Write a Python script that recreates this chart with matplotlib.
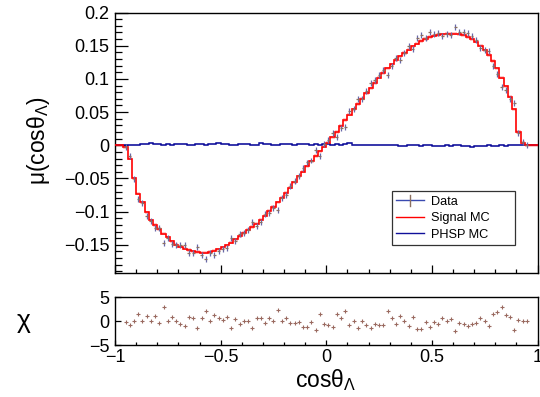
import numpy as np
import matplotlib
matplotlib.use('Agg')
import matplotlib.pyplot as plt
from matplotlib.lines import Line2D
from matplotlib.ticker import MultipleLocator, FixedLocator, FixedFormatter

plt.rcParams['font.family'] = ['Liberation Sans', 'DejaVu Sans']
plt.rcParams['mathtext.fontset'] = 'custom'
plt.rcParams['mathtext.rm'] = 'Liberation Sans'
plt.rcParams['mathtext.it'] = 'Liberation Sans'
plt.rcParams['mathtext.bf'] = 'Liberation Sans:bold'

# ---------------- data ----------------
n_bins = 100
x_range = (-1.0, 1.0)

signal_mc = [
    0.000, 0.000, -0.003, -0.020, -0.050, -0.073, -0.086, -0.101, -0.113, -0.120,
    -0.126, -0.133, -0.139, -0.145, -0.150, -0.153, -0.156, -0.158, -0.160, -0.161,
    -0.162, -0.162, -0.161, -0.159, -0.157, -0.154, -0.151, -0.147, -0.142, -0.137,
    -0.132, -0.127, -0.123, -0.118, -0.112, -0.106, -0.099, -0.093, -0.086, -0.079,
    -0.072, -0.064, -0.056, -0.047, -0.040, -0.032, -0.024, -0.016, -0.009, -0.002,
    0.004, 0.012, 0.020, 0.029, 0.038, 0.046, 0.054, 0.062, 0.070, 0.078,
    0.086, 0.094, 0.102, 0.109, 0.116, 0.122, 0.128, 0.134, 0.139, 0.144,
    0.149, 0.153, 0.157, 0.160, 0.163, 0.165, 0.166, 0.167, 0.168, 0.168,
    0.168, 0.167, 0.166, 0.163, 0.160, 0.156, 0.150, 0.143, 0.136, 0.127,
    0.116, 0.102, 0.089, 0.073, 0.054, 0.020, 0.004, 0.000, 0.000, 0.000,
]

phsp_mc = [
    0.000, 0.000, 0.000, 0.000, 0.000, 0.001, 0.002, 0.002, 0.003, 0.002,
    0.002, 0.001, 0.002, 0.001, 0.002, 0.002, 0.002, 0.001, 0.001, 0.002,
    0.002, 0.001, 0.002, 0.002, 0.003, 0.002, 0.002, 0.001, 0.001, 0.002,
    0.002, 0.002, 0.001, 0.001, 0.003, 0.002, 0.002, 0.001, 0.001, 0.002,
    0.002, 0.002, 0.001, 0.002, 0.002, 0.002, 0.001, 0.002, 0.001, 0.002,
    0.002, 0.001, 0.002, 0.001, 0.002, 0.003, 0.001, 0.001, 0.000, 0.001,
    0.001, 0.000, 0.000, 0.000, 0.001, 0.000, 0.000, -0.001, -0.001, 0.000,
    0.000, 0.000, -0.001, 0.000, 0.000, -0.001, -0.001, -0.001, 0.000, -0.001,
    0.001, 0.000, -0.001, -0.001, -0.002, -0.001, -0.001, -0.001, 0.000, -0.001,
    -0.001, 0.000, -0.001, 0.000, 0.000, 0.000, 0.000, 0.000, 0.000, 0.000,
]

# data exists in bins 2 .. 97
data_first_bin = 2
data_vals = [
    -0.002, -0.016, -0.051, -0.081, -0.087, -0.106, -0.114, -0.125, -0.124, -0.148,
    -0.140, -0.149, -0.150, -0.150, -0.151, -0.162, -0.163, -0.154, -0.165, -0.172,
    -0.162, -0.165, -0.160, -0.156, -0.155, -0.140, -0.144, -0.134, -0.132, -0.127,
    -0.116, -0.121, -0.116, -0.104, -0.102, -0.094, -0.097, -0.079, -0.075, -0.062,
    -0.054, -0.046, -0.034, -0.026, -0.023, -0.007, -0.016, 0.002, 0.008, 0.019,
    0.013, 0.026, 0.028, 0.051, 0.055, 0.070, 0.070, 0.082, 0.094, 0.098,
    0.106, 0.113, 0.106, 0.119, 0.132, 0.129, 0.139, 0.150, 0.145, 0.162,
    0.166, 0.162, 0.170, 0.167, 0.169, 0.164, 0.168, 0.166, 0.178, 0.170,
    0.170, 0.169, 0.164, 0.159, 0.147, 0.143, 0.142, 0.120, 0.107, 0.088,
    0.083, 0.069, 0.064, 0.019, 0.005, 0.001,
]
data_err = 0.0045

chi_vals = [
    -0.3, -0.8, 0.1, 1.5, 0.1, 1.0, 0.1, 1.0, -0.4, 2.9,
    0.1, 0.8, -0.1, -0.6, -1.1, 0.8, 0.6, -1.5, 0.6, 2.0,
    0.1, 1.2, 0.6, 0.3, 0.8, -1.4, 0.4, -0.7, -0.1, -0.1,
    -1.5, 0.6, 0.7, -0.4, 0.6, 0.1, 2.2, -0.1, 0.6, -0.4,
    -0.5, -0.2, -1.3, -1.3, -0.3, -1.8, 1.4, -0.7, -0.8, -1.3,
    1.4, 0.6, 2.0, -0.9, -0.1, -1.5, 0.0, -0.8, -1.5, -0.7,
    -0.8, -0.8, 2.0, 0.6, -0.7, 1.0, 0.1, -1.1, 0.8, -1.7,
    -1.7, -0.3, -1.3, -0.3, -0.6, 0.7, 0.0, 0.4, -2.0, -0.5,
    -0.7, -1.1, -0.7, -0.5, 0.6, 0.0, -1.1, 1.4, 1.8, 2.9,
    1.2, 0.9, -1.9, 0.3, -0.1, -0.1,
]

legend_labels = ['Data', 'Signal MC', 'PHSP MC']
top_yticks = [0.2, 0.15, 0.1, 0.05, 0.0, -0.05, -0.1, -0.15]
top_yticklabels = ['0.2', '0.15', '0.1', '0.05', '0', '\u22120.05', '\u22120.1', '\u22120.15']
bot_yticks = [5, 0, -5]
bot_yticklabels = ['5', '0', '\u22125']
xticks = [-1, -0.5, 0, 0.5, 1]
xticklabels = ['\u22121', '\u22120.5', '0', '0.5', '1']

# ---------------- derived ----------------
edges = np.linspace(x_range[0], x_range[1], n_bins + 1)
centers = 0.5 * (edges[:-1] + edges[1:])
half_w = 0.5 * (edges[1] - edges[0])
sig = np.array(signal_mc)
phsp = np.array(phsp_mc)
xd = centers[data_first_bin:data_first_bin + len(data_vals)]
yd = np.array(data_vals)
chi = np.array(chi_vals)

W, H = 540, 397
fig = plt.figure(figsize=(W / 100, H / 100), dpi=100)
L, R = 115, 537.5
ax1 = fig.add_axes([L / W, (H - 273) / H, (R - L) / W, (273 - 12.5) / H])
ax2 = fig.add_axes([L / W, (H - 345) / H, (R - L) / W, (345 - 297) / H])

red = '#ff0000'
blue = '#10109a'
data_v = '#6868a8'
data_h = '#8b7060'

# signal MC with band
ax1.stairs(sig + 0.0025, edges, baseline=sig - 0.0025, fill=True,
           color='#ffa0a0', alpha=0.6, lw=0, zorder=1)
ax1.stairs(sig, edges, color=red, lw=1.2, zorder=3, baseline=None)
# PHSP MC with band
ax1.stairs(phsp + 0.0015, edges, baseline=phsp - 0.0015, fill=True,
           color='#a0a0e0', alpha=0.6, lw=0, zorder=1)
ax1.stairs(phsp, edges, color=blue, lw=1.1, zorder=2, baseline=None)
# data
ax1.errorbar(xd, yd, yerr=data_err, fmt='none', ecolor=data_v, elinewidth=0.9,
             capsize=0, zorder=4)
ax1.errorbar(xd, yd, xerr=half_w * 0.7, fmt='none', ecolor=data_h, elinewidth=0.9,
             capsize=0, zorder=5)

ax1.set_xlim(*x_range)
ax1.set_ylim(-0.1925, 0.2)

px = 0.72
for ax in (ax1, ax2):
    for s in ax.spines.values():
        s.set_linewidth(1.0)
    ax.tick_params(which='both', direction='in', top=False, right=False, width=0.9,
                   labelsize=13, colors='black')

ax1.yaxis.set_major_locator(FixedLocator(top_yticks))
ax1.yaxis.set_major_formatter(FixedFormatter(top_yticklabels))
ax1.yaxis.set_minor_locator(MultipleLocator(0.01))
ax1.xaxis.set_major_locator(FixedLocator(xticks))
ax1.xaxis.set_minor_locator(MultipleLocator(0.1))
ax1.tick_params(axis='y', which='major', length=13 * px, pad=4)
ax1.tick_params(axis='y', which='minor', length=7 * px)
ax1.tick_params(axis='x', which='major', length=8 * px, labelbottom=False)
ax1.tick_params(axis='x', which='minor', length=4 * px)


# legend with a cross-shaped handle for data
class DataHandle:
    pass


class HandlerCross:
    def legend_artist(self, legend, orig_handle, fontsize, handlebox):
        x0, y0 = -handlebox.xdescent, -handlebox.ydescent
        w, h = handlebox.width, handlebox.height
        tr = handlebox.get_transform()
        lh = Line2D([x0, x0 + w], [y0 + h / 2, y0 + h / 2], color='#3a4ab0', lw=1.0,
                    transform=tr)
        lv = Line2D([x0 + w / 2, x0 + w / 2], [y0 - 0.1 * h, y0 + 1.1 * h], color=data_h,
                    lw=1.0, transform=tr)
        handlebox.add_artist(lh)
        handlebox.add_artist(lv)
        return lh


h_sig = Line2D([], [], color=red, lw=1.0)
h_phsp = Line2D([], [], color=blue, lw=1.0)
leg = ax1.legend([DataHandle(), h_sig, h_phsp], legend_labels,
                 handler_map={DataHandle: HandlerCross()},
                 loc='lower left', bbox_to_anchor=(0.655, 0.107, 0.292, 0.205),
                 mode='expand', borderaxespad=0, fontsize=9.2, frameon=True,
                 fancybox=False, edgecolor='black', handlelength=2.2,
                 handletextpad=0.5, labelspacing=0.35, borderpad=0.35)
leg.get_frame().set_linewidth(0.9)

# chi panel
ax2.plot(xd, chi, ls='none', marker='+', ms=3.5, mew=0.8, color='#9a6a60', zorder=3)
ax2.set_xlim(*x_range)
ax2.set_ylim(-5, 5)
ax2.yaxis.set_major_locator(FixedLocator(bot_yticks))
ax2.yaxis.set_major_formatter(FixedFormatter(bot_yticklabels))
ax2.yaxis.set_minor_locator(MultipleLocator(1))
ax2.xaxis.set_major_locator(FixedLocator(xticks))
ax2.xaxis.set_major_formatter(FixedFormatter(xticklabels))
ax2.xaxis.set_minor_locator(MultipleLocator(0.1))
ax2.tick_params(axis='y', which='major', length=6 * px, pad=4)
ax2.tick_params(axis='y', which='minor', length=0)
ax2.tick_params(axis='x', which='major', length=5 * px, pad=3)
ax2.tick_params(axis='x', which='minor', length=3 * px)

# axis titles
fig.text(39 / W, 1 - 141 / H, 'μ(cosθ$_{Λ}$)', rotation=90, ha='center', va='center',
         fontsize=16.5)
fig.text(24 / W, 1 - 321 / H, 'χ', ha='center', va='center', fontsize=19)
fig.text(326 / W, 1 - 380 / H, 'cosθ$_{Λ}$', ha='center', va='center', fontsize=16.5)

fig.savefig('out.png', dpi=100)
